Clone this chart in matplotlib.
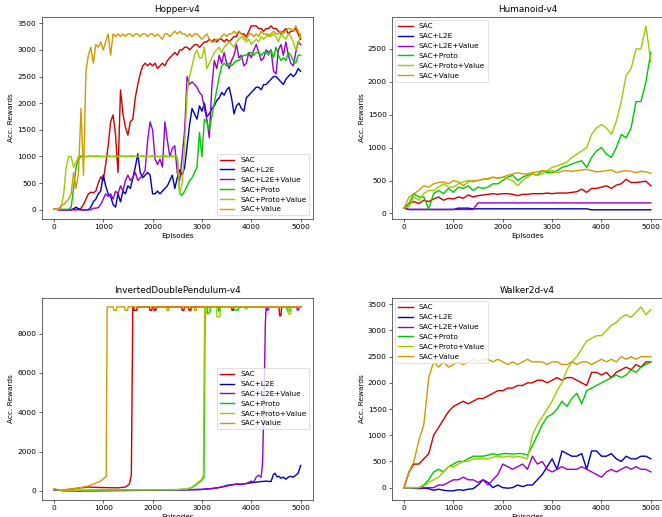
import numpy as np
import matplotlib
matplotlib.use("Agg")
import matplotlib.pyplot as plt
from matplotlib.ticker import MultipleLocator

plt.rcParams["font.size"] = 10

labels = ["SAC", "SAC+L2E", "SAC+L2E+Value", "SAC+Proto", "SAC+Proto+Value", "SAC+Value"]
colors = ["#d00000", "#0000c0", "#9a00d0", "#00c800", "#9acd00", "#d09a00"]

# ---------------- Hopper-v4 (episodes every 50) ----------------
hop_ep = list(range(0, 5001, 50))
hop_sac = [10,10,5,5,0,0,0,5,5,10,
 10,30,100,200,300,330,320,350,500,620,
 550,850,1200,1650,1780,1400,700,2250,1800,1550,
 1400,1650,1700,2100,2350,2550,2700,2750,2700,2750,
 2700,2750,2650,2700,2750,2700,2800,2850,2900,2950,
 2900,3000,3000,3050,3050,3000,3050,3100,3100,3050,
 3100,3150,3150,3200,3150,3200,3150,3200,3200,3150,
 3200,3150,3200,3250,3250,3350,3300,3300,3250,3350,
 3450,3450,3450,3400,3400,3350,3400,3400,3450,3400,
 3400,3350,3300,3350,3400,3300,3350,3350,3400,3300,
 3200]
hop_l2e = [10,10,0,0,0,0,0,0,20,50,
 20,0,0,0,0,50,150,200,300,350,
 650,450,300,250,100,50,300,150,350,300,
 450,400,600,800,1050,700,600,650,700,650,
 300,300,350,300,350,400,450,550,650,400,
 600,750,650,800,1200,1600,1900,1800,1700,1950,
 1850,2000,1750,1800,1900,1950,2050,2100,2200,2150,
 2250,2300,2100,1800,1950,2000,1900,1850,2100,2150,
 2200,2250,2300,2300,2250,2350,2350,2400,2450,2500,
 2500,2450,2400,2350,2450,2500,2550,2500,2550,2650,
 2600]
hop_l2ev = [10,10,0,0,0,0,0,0,0,0,
 0,0,0,0,0,0,30,30,40,100,
 200,300,250,300,200,350,300,450,350,550,
 650,550,600,700,550,600,650,750,1300,1650,
 1500,950,850,950,800,1650,1300,1000,1150,1200,
 700,550,1000,1500,2500,2350,2400,2350,2300,2200,
 2150,1900,1700,1350,2300,2800,2650,2900,2750,2950,
 2750,2650,2800,2900,3100,2850,2900,2700,2750,2950,
 2850,3000,3100,2950,2800,2850,3000,2950,3000,2600,
 2550,3000,3100,2900,3150,2900,2750,2700,2950,3150,
 3100]
hop_proto = [10,10,10,10,10,10,10,50,400,800,
 950,1000,1000,1000,1000,1010,1000,1000,1010,1000,
 1000,1000,1010,1000,1000,1000,1000,1010,1000,1000,
 1000,1010,1000,1000,1000,1000,1010,1000,1000,1000,
 1010,1000,1000,1000,1000,1010,1000,1000,1000,1000,
 1000,300,270,350,450,550,600,700,800,1450,
 1000,1700,1650,1500,1750,2000,2250,2500,2700,2750,
 2700,2750,2700,2750,2800,2800,2850,2900,2900,2950,
 2950,2900,2950,2950,2900,2950,2950,2900,3000,2850,
 3050,2900,2800,2850,2800,2950,2900,2800,2750,2900,
 2900]
hop_protov = [10,10,10,50,300,800,1000,1000,800,900,
 1000,1020,1000,1000,1010,1000,1000,1010,1000,1000,
 1000,1000,1010,1000,1000,1010,1000,1000,1000,1010,
 1000,1000,1010,1000,1000,1000,1010,1000,1000,1000,
 1000,1010,1000,1000,1010,1000,1000,1000,1010,1000,
 1000,300,500,1200,2200,2500,2700,2900,3000,2850,
 2850,3050,2650,2750,2850,2950,3000,3050,2950,3050,
 3100,3150,3100,3050,3150,3200,3250,3200,3150,3200,
 3100,3150,3200,3150,3250,3200,3250,3300,3250,3300,
 3250,3150,3300,3250,3200,3300,3250,3150,3000,3100,
 3300]
hop_value = [20,20,30,80,100,150,200,300,700,400,
 700,1900,650,2600,2900,3050,2750,3100,3050,3150,
 3000,3150,3300,2900,3300,3250,3300,3250,3300,3250,
 3300,3300,3250,3300,3300,3250,3300,3300,3250,3300,
 3300,3250,3300,3250,3200,3300,3300,3250,3300,3350,
 3300,3350,3300,3300,3250,3300,3250,3300,3300,3250,
 3200,3250,3300,3200,3150,3150,3200,3200,3250,3300,
 3250,3300,3300,3350,3300,3350,3300,3250,3200,3300,
 3300,3250,3300,3250,3350,3300,3300,3250,3300,3350,
 3300,3300,3350,3300,3350,3400,3400,3350,3450,3350,
 3250]

# ---------------- Humanoid-v4 (episodes every 100) ----------------
hum_ep = list(range(0, 5001, 100))
hum_sac = [80,150,180,150,200,180,220,250,200,230,
 220,250,230,280,250,270,280,290,300,290,
 300,300,290,270,290,290,300,300,300,310,
 300,310,310,310,320,330,370,320,380,380,
 400,420,380,430,450,520,470,470,480,490,
 420]
hum_l2e = [80,60,60,60,60,60,60,60,60,60,
 60,80,80,80,70,70,70,70,70,70,
 70,70,70,70,70,70,70,70,70,70,
 70,70,70,70,70,70,70,70,55,55,
 55,55,55,55,55,55,55,55,55,55,
 55]
hum_l2ev = [80,60,60,60,60,60,60,60,60,60,
 60,60,60,60,60,160,160,160,160,160,
 160,160,160,160,160,160,160,160,160,160,
 160,160,160,160,160,160,160,160,160,160,
 160,160,160,160,160,160,160,160,160,160,
 160]
hum_proto = [80,150,300,250,250,70,300,350,300,380,
 320,400,380,420,350,400,380,400,450,450,
 500,550,580,500,550,580,600,580,650,620,
 620,650,700,720,750,780,800,700,850,950,
 1000,900,850,1000,1200,1150,1300,1700,1700,2000,
 2450]
hum_protov = [80,100,250,200,300,350,350,400,450,400,
 400,450,480,500,480,500,520,530,550,530,
 550,520,500,420,500,550,600,580,600,650,
 700,720,750,780,850,900,950,1000,1200,1300,
 1350,1300,1200,1400,1700,2100,2200,2500,2500,2850,
 2300]
hum_value = [80,250,300,350,420,400,450,470,480,450,
 500,480,420,480,500,500,520,520,550,540,
 550,580,600,620,600,600,620,630,650,640,
 650,620,640,650,640,650,660,670,650,630,
 640,650,660,620,640,650,640,620,640,630,
 610]

# ---------------- InvertedDoublePendulum-v4 (read breakpoints) ----------------
pen_sac_ep = [0,150,300,500,700,900,1100,1300,1450,1530,1570,1600,
 1615,1625,1680,1690, 1935,1945,1985,1995, 2025,2035,2065,2075,
 2590,2600,2635,2645, 2730,2740,2775,2785, 3600,3610,3635,3645,
 4560,4575,4600,4615, 5000]
pen_sac = [90,40,80,150,200,180,170,160,200,350,800,9355,
 9355,9180,9180,9355, 9355,9180,9180,9355, 9355,9180,9180,9355,
 9355,9180,9180,9355, 9355,9180,9180,9355, 9355,9180,9180,9355,
 9355,8900,8900,9355, 9355]
pen_l2e_ep = [0,200,500,1000,1500,2000,2500,3000,3200,3400,3500,3600,3700,3800,3900,4000,
 4100,4200,4300,4400,4450,4480,4520,4560,4600,4650,4700,4750,4800,4850,4900,4950,5000]
pen_l2e = [60,20,10,20,30,40,50,80,120,200,280,320,350,330,380,420,
 450,480,500,480,850,900,720,750,650,700,600,700,750,700,800,900,1300]
pen_l2ev_ep = [0,200,500,1000,1500,2000,2500,3000,3300,3500,3600,3700,3800,3900,4000,4050,
 4100,4150,4200,4230,4260,4285,4300, 4310,4320,4345,4355, 4920,4930,4960,4970, 5000]
pen_l2ev = [60,20,10,20,30,40,50,80,150,250,300,350,350,380,500,450,
 700,800,700,1500,5000,8500,9355, 9355,9200,9200,9355, 9355,9200,9200,9355, 9355]
pen_proto_ep = [0,300,600,1000,1500,2000,2500,2700,2800,2900,3000,3040,3065,
 3100,3110,3160,3170, 3330,3340,3360,3370, 3640,3650,3740,3750, 4720,4730,4780,4790, 5000]
pen_proto = [80,30,40,50,60,60,70,100,180,350,550,700,9355,
 9355,9050,9050,9355, 9355,9150,9150,9355, 9355,9200,9200,9355, 9355,9150,9150,9355, 9355]
pen_protov_ep = [0,300,600,1000,1500,2000,2500,2700,2800,2900,3000,3030,3055,
 3075,3085,3145,3155, 3295,3305,3365,3375, 3870,3880,3915,3925, 4740,4750,4800,4810, 5000]
pen_protov = [80,30,40,50,60,60,70,100,200,400,600,800,9355,
 9355,9000,9000,9355, 9355,8850,8850,9355, 9355,9250,9250,9355, 9355,9000,9000,9355, 9355]
pen_value_ep = [0,150,300,500,700,850,950,1020,1060,1080,
 1205,1215,1265,1275, 1435,1445,1495,1505, 2285,2295,2325,2335, 2840,2850,2885,2895, 5000]
pen_value = [90,40,80,150,250,400,500,650,750,9355,
 9355,9180,9180,9355, 9355,9180,9180,9355, 9355,9180,9180,9355, 9355,9180,9180,9355, 9355]

# ---------------- Walker2d-v4 (episodes every 100) ----------------
wal_ep = list(range(0, 5001, 100))
wal_sac = [0,300,450,450,550,650,1000,1150,1300,1450,
 1550,1600,1650,1600,1650,1700,1700,1750,1800,1850,
 1850,1900,1900,1950,1950,2000,2000,2050,2050,2000,
 2050,2100,2050,2100,2100,2050,2000,1950,2200,2200,
 2150,2200,2100,2200,2250,2300,2250,2350,2300,2400,
 2400]
wal_l2e = [0,0,-10,-20,-10,-20,-50,-30,-50,-60,
 -60,-40,-50,-30,-20,50,150,100,0,50,
 0,-10,0,50,20,50,50,150,250,400,
 550,350,700,650,600,600,650,350,700,700,
 600,600,650,550,500,600,550,550,600,600,
 550]
wal_l2ev = [0,0,0,-10,0,0,0,50,50,100,
 150,150,200,150,150,100,150,50,150,250,
 450,400,350,400,450,350,600,450,500,350,
 300,350,400,350,350,350,400,350,300,250,
 200,300,350,300,350,400,350,400,350,350,
 300]
wal_proto = [0,0,0,0,50,150,300,350,300,400,
 450,500,500,550,600,600,600,620,650,620,
 650,650,640,650,650,620,800,1000,1200,1350,
 1400,1500,1650,1550,1700,1800,1600,1850,1900,1950,
 2000,2050,2100,2150,2100,2150,2250,2200,2300,2350,
 2400]
wal_protov = [0,0,0,0,30,100,150,200,300,400,
 400,450,500,500,550,550,550,550,580,600,
 580,600,580,600,580,550,1000,1200,1350,1500,
 1650,1850,2000,2250,2400,2500,2650,2800,2850,2900,
 2900,3000,3100,3150,3250,3300,3250,3350,3450,3300,
 3400]
wal_value = [0,300,500,900,1200,2100,2400,2300,2400,2300,
 2350,2400,2350,2400,2450,2400,2450,2450,2400,2450,
 2400,2350,2400,2350,2400,2450,2400,2400,2400,2350,
 2400,2400,2350,2350,2400,2350,2400,2400,2350,2400,
 2450,2400,2450,2400,2500,2450,2500,2450,2500,2500,
 2500]

DPI = 53
fig = plt.figure(figsize=(662 / DPI, 517 / DPI), dpi=DPI)

W, H = 0.4101, 0.3913
rects = [[0.0627, 0.5764, W, H], [0.5917, 0.5764, W, H],
         [0.0627, 0.0329, W, H], [0.5917, 0.0329, W, H]]

panels = [
    ("Hopper-v4", [(hop_ep, hop_sac), (hop_ep, hop_l2e), (hop_ep, hop_l2ev),
                   (hop_ep, hop_proto), (hop_ep, hop_protov), (hop_ep, hop_value)],
     "lower right", 500),
    ("Humanoid-v4", [(hum_ep, hum_sac), (hum_ep, hum_l2e), (hum_ep, hum_l2ev),
                     (hum_ep, hum_proto), (hum_ep, hum_protov), (hum_ep, hum_value)],
     "upper left", 500),
    ("InvertedDoublePendulum-v4", [(pen_sac_ep, pen_sac), (pen_l2e_ep, pen_l2e),
                                   (pen_l2ev_ep, pen_l2ev), (pen_proto_ep, pen_proto),
                                   (pen_protov_ep, pen_protov), (pen_value_ep, pen_value)],
     "center right", 2000),
    ("Walker2d-v4", [(wal_ep, wal_sac), (wal_ep, wal_l2e), (wal_ep, wal_l2ev),
                     (wal_ep, wal_proto), (wal_ep, wal_protov), (wal_ep, wal_value)],
     "upper left", 500),
]

for rect, (title, series, loc, ystep) in zip(rects, panels):
    ax = fig.add_axes(rect)
    for (x, y), lab, c in zip(series, labels, colors):
        ax.plot(x, y, color=c, lw=1.9, label=lab)
    ax.set_title(title)
    ax.set_xlabel("Episodes")
    ax.set_ylabel("Acc. Rewards")
    ax.xaxis.set_major_locator(MultipleLocator(1000))
    ax.yaxis.set_major_locator(MultipleLocator(ystep))
    ax.legend(loc=loc)

fig.savefig("out.png", dpi=DPI)
